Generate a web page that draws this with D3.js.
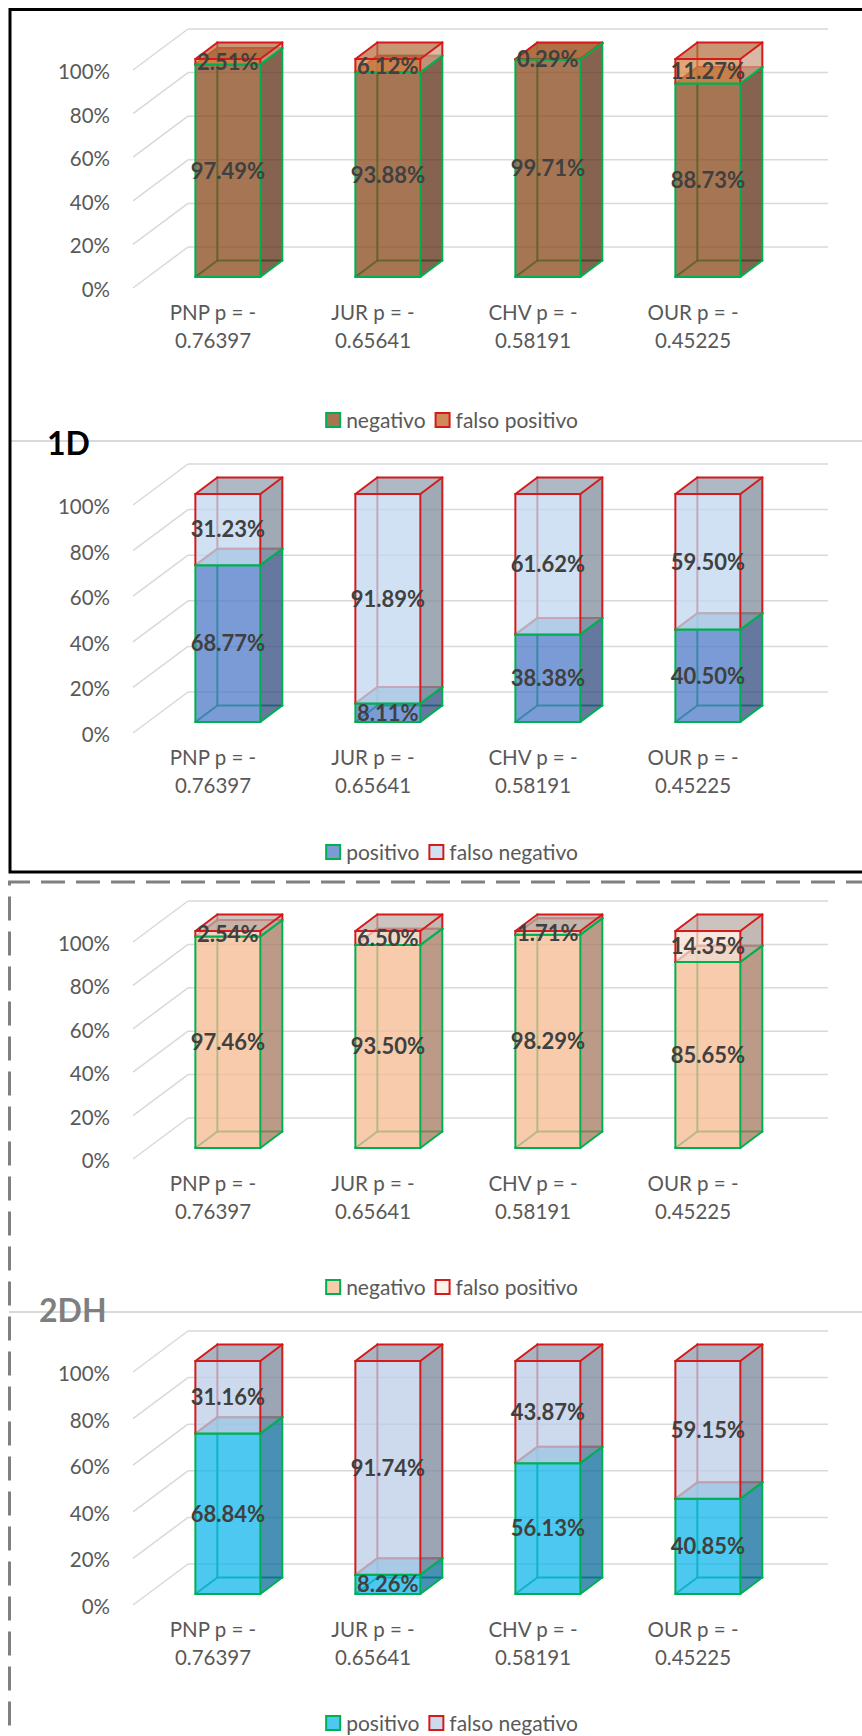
<!DOCTYPE html>
<html>
<head>
<meta charset="utf-8">
<script src="https://cdn.jsdelivr.net/npm/d3@7"></script>
<style>
  html, body { margin: 0; padding: 0; background: #fff; }
  svg { display: block; font-family: Lato, "Open Sans", sans-serif; }
</style>
</head>
<body>
<svg id="chart" width="862" height="1736"></svg>
<script>
// ---- data ----
const categories = ["PNP", "JUR", "CHV", "OUR"];
const pValues = ["0.76397", "0.65641", "0.58191", "0.45225"];
const yTicks = [0, 20, 40, 60, 80, 100];

const negativo1D = [97.49, 93.88, 99.71, 88.73];
const falsoPositivo1D = [2.51, 6.12, 0.29, 11.27];
const positivo1D = [68.77, 8.11, 38.38, 40.50];
const falsoNegativo1D = [31.23, 91.89, 61.62, 59.50];

const negativo2DH = [97.46, 93.50, 98.29, 85.65];
const falsoPositivo2DH = [2.54, 6.50, 1.71, 14.35];
const positivo2DH = [68.84, 8.26, 56.13, 40.85];
const falsoNegativo2DH = [31.16, 91.74, 43.87, 59.15];

// ---- styles ----
const GREEN = "#00B050", RED = "#D41A1A";
const FACE_OPACITY = 0.75;

const panels = [
  { top: 29, H: 218, legendY: 420,
    lower: { name: "negativo", values: negativo1D, edge: GREEN, front: "#88481B", side: "#5C2F13", cap: "#803702", key: "#A67654" },
    upper: { name: "falso positivo", values: falsoPositivo1D, edge: RED, front: "#D7874B", side: "#CAA287", cap: "#B67344", key: "#D08A5A" } },
  { top: 464, H: 228, legendY: 852,
    lower: { name: "positivo", values: positivo1D, edge: GREEN, front: "#4E7AC7", side: "#304B80", cap: "#6694C3", key: "#7A9BD5" },
    upper: { name: "falso negativo", values: falsoNegativo1D, edge: RED, front: "#C0D7EF", side: "#808E9B", cap: "#94A2B3", key: "#D0E1F3" } },
  { top: 901, H: 217, legendY: 1287,
    lower: { name: "negativo", values: negativo2DH, edge: GREEN, front: "#F6BA92", side: "#A47A5F", cap: "#CAA88E", key: "#F8CBAD" },
    upper: { name: "falso positivo", values: falsoPositivo2DH, edge: RED, front: "#F8E0D3", side: "#AFA29B", cap: "#BCAFA8", key: "#FCF2EC" } },
  { top: 1331, H: 233, legendY: 1723,
    lower: { name: "positivo", values: positivo2DH, edge: GREEN, front: "#12B6EB", side: "#0B6C9B", cap: "#3EA8D7", key: "#4DC8F0" },
    upper: { name: "falso negativo", values: falsoNegativo2DH, edge: RED, front: "#BCCEE8", side: "#7A879B", cap: "#8E9BAF", key: "#CDDAEE" } }
];

// oblique depth of the floor / side wall, and the slice of it the columns occupy
const DX = 55, DY = -41;
const BAR_D0 = 0.27, BAR_D1 = 0.67;
const FLOOR_X0 = 133, FLOOR_X1 = 773;

const svg = d3.select("#chart");

// ---- frames ----
svg.append("line").attr("x1", 10).attr("x2", 862).attr("y1", 441).attr("y2", 441)
  .attr("stroke", "#d9d9d9").attr("stroke-width", 2);
svg.append("line").attr("x1", 9).attr("x2", 862).attr("y1", 1312).attr("y2", 1312)
  .attr("stroke", "#d9d9d9").attr("stroke-width", 2);

svg.append("path").attr("d", "M870,9.5 H10 V872 H870")
  .attr("fill", "none").attr("stroke", "#000").attr("stroke-width", 3);
svg.append("path").attr("d", "M870,882 H9.5 V1745")
  .attr("fill", "none").attr("stroke", "#808080").attr("stroke-width", 3)
  .attr("stroke-dasharray", "24,11");

const x = d3.scaleBand().domain(categories).range([FLOOR_X0, FLOOR_X1])
  .paddingInner(0.594).paddingOuter(0.297);
const bw = x.bandwidth();

function pt(p) { return p[0] + "," + p[1]; }

panels.forEach(p => {
  const g = svg.append("g");
  const front0 = p.top + p.H - DY;
  const y = d3.scaleLinear().domain([0, 100]).range([front0, front0 - p.H]);

  // side-wall and back-wall gridlines
  const grid = g.append("g").attr("stroke", "#d9d9d9").attr("stroke-width", 1.5).attr("fill", "none");
  yTicks.forEach(t => {
    grid.append("line").attr("x1", FLOOR_X0).attr("y1", y(t)).attr("x2", FLOOR_X0 + DX).attr("y2", y(t) + DY);
    grid.append("line").attr("x1", FLOOR_X0 + DX).attr("y1", y(t) + DY).attr("x2", FLOOR_X1 + DX).attr("y2", y(t) + DY);
  });

  // value axis
  const yAxis = g.append("g").attr("transform", "translate(110,2)")
    .call(d3.axisLeft(y).tickValues(yTicks).tickSize(0).tickPadding(0).tickFormat(d => d + "%"));
  yAxis.select(".domain").remove();
  yAxis.selectAll("text").attr("fill", "#595959").style("font-size", "20.5px").style("font-family", "Lato");

  // category axis (two-line labels)
  const xAxis = g.append("g").attr("transform", `translate(0,${front0 + 25})`)
    .call(d3.axisBottom(x).tickSize(0).tickPadding(0));
  xAxis.select(".domain").remove();
  xAxis.selectAll(".tick text").each(function(d, i) {
    const t = d3.select(this).text(null).attr("fill", "#595959").attr("dy", 0)
      .style("font-size", "20.5px").style("font-family", "Lato");
    t.append("tspan").attr("x", 0).attr("dy", "0.36em").text(d + " p = -");
    t.append("tspan").attr("x", 0).attr("dy", 28).text(pValues[i]);
  });

  // 3D stacked columns
  const bars = g.append("g");
  const labels = [];
  categories.forEach((c, i) => {
    const ox = x(c) + BAR_D0 * DX, oy = BAR_D0 * DY;
    const bx = (BAR_D1 - BAR_D0) * DX, by = (BAR_D1 - BAR_D0) * DY;
    const segs = [
      { s: p.lower, v0: 0, v1: p.lower.values[i] },
      { s: p.upper, v0: p.lower.values[i], v1: p.lower.values[i] + p.upper.values[i] }
    ];
    const boxes = segs.map(seg => {
      const yb = y(seg.v0) + oy, yt = y(seg.v1) + oy;
      return {
        seg,
        FL0: [ox, yb], FR0: [ox + bw, yb], FR1: [ox + bw, yt], FL1: [ox, yt],
        BL0: [ox + bx, yb + by], BR0: [ox + bw + bx, yb + by],
        BR1: [ox + bw + bx, yt + by], BL1: [ox + bx, yt + by]
      };
    });
    const edge = (gg, a, b, col) => gg.append("line")
      .attr("x1", a[0]).attr("y1", a[1]).attr("x2", b[0]).attr("y2", b[1])
      .attr("stroke", col).attr("stroke-width", 2).attr("stroke-linecap", "round");
    const face = (gg, pts, col) => gg.append("polygon")
      .attr("points", pts.map(pt).join(" ")).attr("fill", col).attr("fill-opacity", FACE_OPACITY);

    boxes.forEach((b, k) => {
      const s = b.seg.s, gb = bars.append("g");
      // edges hidden behind the translucent faces
      edge(gb, b.FL0, b.BL0, s.edge);
      edge(gb, b.BL0, b.BR0, s.edge);
      edge(gb, b.BL0, b.BL1, s.edge);
      // faces
      face(gb, [b.FR0, b.BR0, b.BR1, b.FR1], s.side);
      face(gb, [b.FL1, b.FR1, b.BR1, b.BL1], s.cap);
      face(gb, [b.FL0, b.FR0, b.FR1, b.FL1], s.front);
      // visible edges
      if (k === 0) { edge(gb, b.FL0, b.FR0, s.edge); edge(gb, b.FR0, b.BR0, s.edge); }
      edge(gb, b.FL0, b.FL1, s.edge);
      edge(gb, b.FR0, b.FR1, s.edge);
      edge(gb, b.BR0, b.BR1, s.edge);
      edge(gb, b.FL1, b.FR1, s.edge);
      edge(gb, b.FR1, b.BR1, s.edge);
      edge(gb, b.BR1, b.BL1, s.edge);
      edge(gb, b.BL1, b.FL1, s.edge);
      labels.push({ x: ox + bw / 2, y: y((b.seg.v0 + b.seg.v1) / 2) + oy, v: s.values[i] });
    });
    // seam between the two stacked boxes keeps the lower box colour
    const lo = boxes[0];
    edge(bars, lo.FL1, lo.FR1, p.lower.edge);
    edge(bars, lo.FR1, lo.BR1, p.lower.edge);
  });

  // data labels
  g.append("g").selectAll("text").data(labels).join("text")
    .attr("x", d => d.x).attr("y", d => d.y).attr("dy", "0.36em")
    .attr("text-anchor", "middle").attr("fill", "#404040")
    .style("font-size", "22px").style("font-weight", "bold")
    .text(d => d.v.toFixed(2) + "%");

  // legend
  const items = [p.lower, p.upper];
  const lg = g.append("g");
  const texts = items.map(it => lg.append("text").attr("fill", "#595959")
    .style("font-size", "21px").attr("dy", "0.36em").attr("y", p.legendY).text(it.name));
  const widths = texts.map(t => t.node().getComputedTextLength());
  const SQ = 14, GAP = 6, SEP = 10;
  const total = widths.reduce((a, w) => a + SQ + GAP + w, 0) + SEP;
  let cx = 452 - total / 2;
  items.forEach((it, k) => {
    lg.append("rect").attr("x", cx).attr("y", p.legendY - SQ / 2).attr("width", SQ).attr("height", SQ)
      .attr("fill", it.key).attr("stroke", it.edge).attr("stroke-width", 2);
    texts[k].attr("x", cx + SQ + GAP);
    cx += SQ + GAP + widths[k] + SEP;
  });
});

// panel tags
svg.append("text").attr("x", 47).attr("y", 455).text("1D")
  .attr("fill", "#000").style("font-size", "32px").style("font-weight", "bold");
svg.append("text").attr("x", 39).attr("y", 1322).text("2DH")
  .attr("fill", "#7f7f7f").style("font-size", "32px").style("font-weight", "bold");
</script>
</body>
</html>
